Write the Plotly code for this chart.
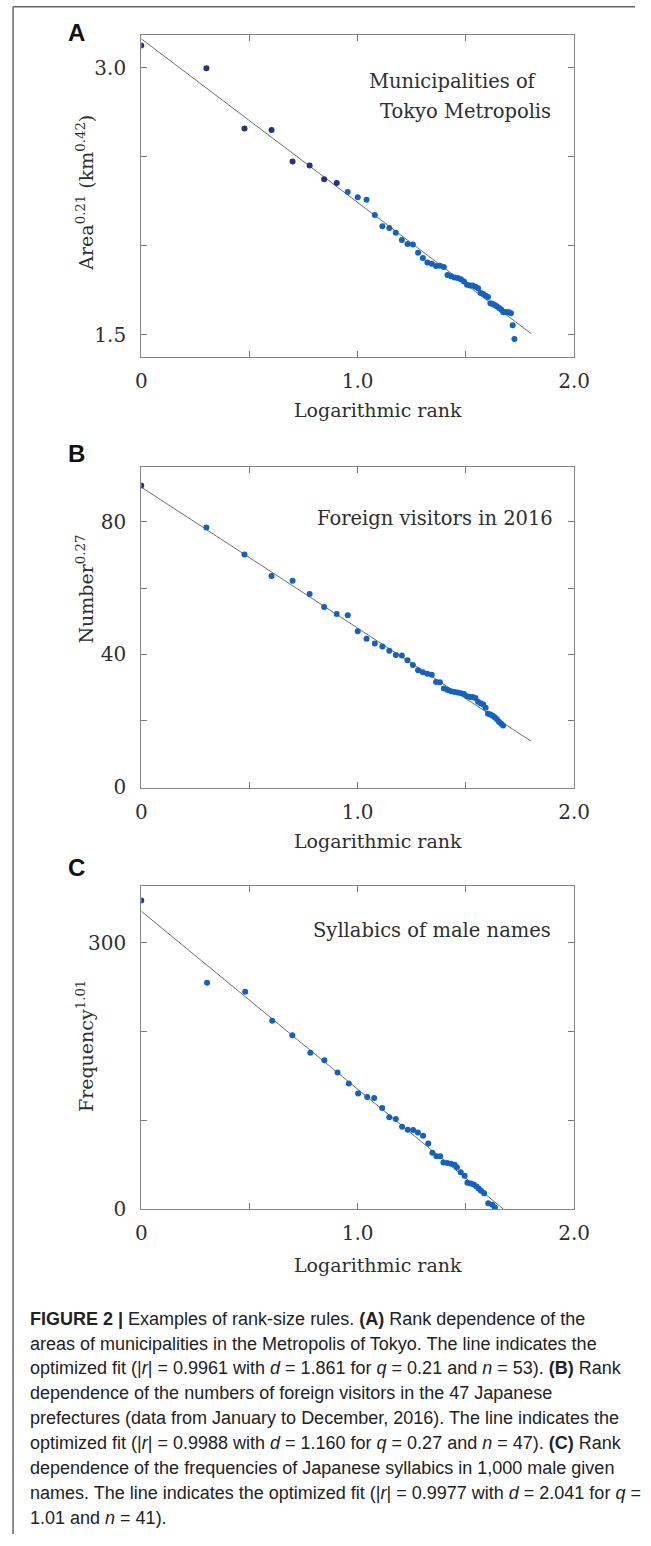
import plotly.graph_objects as go

W, H = 651, 1546

# ---------------- data ----------------
rank_a = [0, 0.301, 0.477, 0.602, 0.699, 0.778, 0.845, 0.903, 0.954, 1.000,
          1.041, 1.079, 1.114, 1.146, 1.176, 1.204, 1.230, 1.255, 1.279, 1.301,
          1.322, 1.342, 1.362, 1.380, 1.398, 1.415, 1.431, 1.447, 1.462, 1.477,
          1.491, 1.505, 1.519, 1.531, 1.544, 1.556, 1.568, 1.580, 1.591, 1.602,
          1.613, 1.623, 1.633, 1.643, 1.653, 1.663, 1.672, 1.681, 1.690, 1.699,
          1.708, 1.716, 1.724]
area_a = [3.125, 2.998, 2.659, 2.650, 2.473, 2.451, 2.374, 2.352, 2.302, 2.272,
          2.259, 2.173, 2.110, 2.099, 2.073, 2.032, 2.009, 2.007, 1.961, 1.931,
          1.905, 1.898, 1.886, 1.888, 1.881, 1.836, 1.829, 1.821, 1.818, 1.812,
          1.799, 1.780, 1.777, 1.777, 1.769, 1.761, 1.734, 1.728, 1.719, 1.711,
          1.676, 1.672, 1.667, 1.659, 1.650, 1.641, 1.628, 1.628, 1.626, 1.626,
          1.620, 1.553, 1.475]
fit_a_x = [0.0, 1.800]
fit_a_y = [3.163, 1.507]

rank_b = [0, 0.301, 0.477, 0.602, 0.699, 0.778, 0.845, 0.903, 0.954, 1.000,
          1.041, 1.079, 1.114, 1.146, 1.176, 1.204, 1.230, 1.255, 1.279, 1.301,
          1.322, 1.342, 1.362, 1.380, 1.398, 1.415, 1.431, 1.447, 1.462, 1.477,
          1.491, 1.505, 1.519, 1.531, 1.544, 1.556, 1.568, 1.580, 1.591, 1.602,
          1.613, 1.623, 1.633, 1.643, 1.653, 1.663, 1.672]
number_b = [90.9, 78.2, 70.1, 63.6, 62.2, 58.2, 54.3, 52.2, 51.8, 47.0,
            44.7, 43.3, 42.4, 41.1, 39.8, 39.7, 38.2, 36.8, 35.2, 34.6,
            34.2, 33.9, 31.7, 31.6, 29.7, 29.3, 28.9, 28.7, 28.5, 28.3,
            28.1, 27.4, 27.2, 27.2, 26.9, 25.7, 25.3, 24.9, 23.9, 22.1,
            21.9, 21.5, 21.1, 20.5, 19.7, 19.1, 18.6]
fit_b_x = [0.0, 1.800]
fit_b_y = [90.4, 13.9]

rank_c = [0, 0.304, 0.480, 0.605, 0.698, 0.781, 0.846, 0.907, 0.959, 1.002,
          1.044, 1.076, 1.113, 1.146, 1.176, 1.205, 1.231, 1.256, 1.278, 1.302,
          1.326, 1.345, 1.364, 1.381, 1.396, 1.414, 1.432, 1.448, 1.458, 1.476,
          1.494, 1.507, 1.522, 1.536, 1.549, 1.559, 1.570, 1.584, 1.603, 1.622,
          1.634]
freq_c = [347.8, 255.2, 244.8, 212.3, 195.9, 176.1, 167.5, 153.7, 141.4, 130.2,
          126.1, 125.0, 113.8, 103.4, 101.3, 92.5, 89.3, 89.0, 86.2, 82.6,
          73.7, 63.4, 59.4, 59.2, 52.4, 51.8, 51.0, 49.8, 46.8, 41.4,
          37.3, 29.4, 28.5, 27.4, 25.3, 22.9, 20.3, 17.7, 6.3, 4.6,
          1.5]
fit_c_x = [0.0, 1.674]
fit_c_y = [335.8, -0.45]

x_ticks = [0, 1.0, 2.0]
x_ticktext = ["0", "1.0", "2.0"]
x_minor = [0.5, 1.5]
y_ticks_a = [1.5, 3.0]
y_ticktext_a = ["1.5", "3.0"]
y_minor_a = [2.0, 2.5]
y_ticks_b = [0, 40, 80]
y_ticktext_b = ["0", "40", "80"]
y_minor_b = [20, 60]
y_ticks_c = [0, 300]
y_ticktext_c = ["0", "300"]
y_minor_c = [100, 200]

y_titles = ["Area<sup>0.21</sup> (km<sup>0.42</sup>)", "Number<sup>0.27</sup>",
            "Frequency<sup>1.01</sup>"]
x_title = "Logarithmic rank"
panel_letters = ["A", "B", "C"]

caption_lines = [
    "<b>FIGURE 2 |</b> Examples of rank-size rules. <b>(A)</b> Rank dependence of the",
    "areas of municipalities in the Metropolis of Tokyo. The line indicates the",
    "optimized fit (|<i>r</i>| = 0.9961 with <i>d</i> = 1.861 for <i>q</i> = 0.21 and <i>n</i> = 53). <b>(B)</b> Rank",
    "dependence of the numbers of foreign visitors in the 47 Japanese",
    "prefectures (data from January to December, 2016). The line indicates the",
    "optimized fit (|<i>r</i>| = 0.9988 with <i>d</i> = 1.160 for <i>q</i> = 0.27 and <i>n</i> = 47). <b>(C)</b> Rank",
    "dependence of the frequencies of Japanese syllabics in 1,000 male given",
    "names. The line indicates the optimized fit (|<i>r</i>| = 0.9977 with <i>d</i> = 2.041 for <i>q</i> =",
    "1.01 and <i>n</i> = 41).",
]

# ---------------- layout geometry (pixels) ----------------
PX_L, PX_R = 140, 588
panels = [
    dict(top=35.0, bot=359.5, yr=[1.376, 3.186], yt=y_ticks_a, ytt=y_ticktext_a, ym=y_minor_a,
         x=rank_a, y=area_a, fx=fit_a_x, fy=fit_a_y, ndark=8,
         ytitle_y=194, xtitle_y=413, letter_y=33,
         labels=[("Municipalities of", 374, 82), ("Tokyo Metropolis", 385, 112)]),
    dict(top=470.7, bot=794.0, yr=[-0.2, 96.44], yt=y_ticks_b, ytt=y_ticktext_b, ym=y_minor_b,
         x=rank_b, y=number_b, fx=fit_b_x, fy=fit_b_y, ndark=1,
         ytitle_y=594, xtitle_y=848, letter_y=457,
         labels=[("Foreign visitors in 2016", 320, 523)]),
    dict(top=893.3, bot=1218.7, yr=[-0.45, 363.8], yt=y_ticks_c, ytt=y_ticktext_c, ym=y_minor_c,
         x=rank_c, y=freq_c, fx=fit_c_x, fy=fit_c_y, ndark=1,
         ytitle_y=1054, xtitle_y=1275, letter_y=874,
         labels=[("Syllabics of male names", 316, 938)]),
]

SERIF = "DejaVu Serif"
TXT = "#2e2e2e"
TICKC = "#7a7a7a"

def px_x(px):
    return px / W

def px_y(py):
    return 1 - py / H

fig = go.Figure()
annotations = []
for i, p in enumerate(panels):
    sfx = "" if i == 0 else str(i + 1)
    xa, ya = "x" + sfx, "y" + sfx
    fig.add_trace(go.Scatter(x=p["fx"], y=p["fy"], mode="lines",
                             line=dict(color="#6e6e6e", width=1),
                             xaxis=xa, yaxis=ya, showlegend=False, hoverinfo="skip"))
    cols = ["#27327e" if k < p["ndark"] else "#1262c4" for k in range(len(p["x"]))]
    fig.add_trace(go.Scatter(x=p["x"], y=p["y"], mode="markers",
                             marker=dict(size=6, color=cols, line=dict(width=0)),
                             xaxis=xa, yaxis=ya, showlegend=False))
    common = dict(ticks="inside", ticklen=6, tickwidth=1, tickcolor=TICKC,
                  showline=True, linecolor="#858585", linewidth=1.2, mirror="ticks",
                  showgrid=False, zeroline=False,
                  tickfont=dict(family=SERIF, size=20, color=TXT))
    fig.update_layout(**{
        "xaxis" + sfx: dict(domain=[px_x(PX_L), px_x(PX_R)], range=[0, 2],
                            tickmode="array", tickvals=x_ticks, ticktext=x_ticktext, anchor=ya,
                            ticklabelstandoff=6,
                            minor=dict(tickmode="array", tickvals=x_minor, ticks="inside",
                                       ticklen=6, tickwidth=1, tickcolor=TICKC, showgrid=False),
                            **common),
        "yaxis" + sfx: dict(domain=[px_y(p["bot"]), px_y(p["top"])], range=p["yr"],
                            tickmode="array", tickvals=p["yt"], ticktext=p["ytt"], anchor=xa,
                            ticklabelstandoff=10,
                            minor=dict(tickmode="array", tickvals=p["ym"], ticks="inside",
                                       ticklen=6, tickwidth=1, tickcolor=TICKC, showgrid=False),
                            **common),
    })
    annotations.append(dict(text=y_titles[i], x=px_x(82), y=px_y(p["ytitle_y"]),
                            xref="paper", yref="paper", showarrow=False, textangle=-90,
                            xanchor="center", yanchor="middle",
                            font=dict(family=SERIF, size=19, color=TXT)))
    annotations.append(dict(text=x_title, x=px_x(385), y=px_y(p["xtitle_y"]),
                            xref="paper", yref="paper", showarrow=False,
                            xanchor="center", yanchor="middle",
                            font=dict(family=SERIF, size=19, color=TXT)))
    annotations.append(dict(text="<b>%s</b>" % panel_letters[i], x=px_x(62), y=px_y(p["letter_y"]),
                            xref="paper", yref="paper", showarrow=False,
                            xanchor="left", yanchor="middle",
                            font=dict(family="Liberation Sans", size=24, color="#111")))
    for (t, lx, ly) in p["labels"]:
        annotations.append(dict(text=t, x=px_x(lx), y=px_y(ly), xref="paper", yref="paper",
                                showarrow=False, xanchor="left", yanchor="middle",
                                font=dict(family=SERIF, size=19.5, color=TXT)))

for j, line in enumerate(caption_lines):
    annotations.append(dict(text=line, x=px_x(23), y=px_y(1329 + 25.1 * j),
                            xref="paper", yref="paper", showarrow=False,
                            xanchor="left", yanchor="middle",
                            font=dict(family="Liberation Sans", size=18, color="#222")))

shapes = [
    dict(type="line", xref="paper", yref="paper", x0=px_x(7.3), x1=1.0,
         y0=px_y(6.7), y1=px_y(6.7), line=dict(color="#666", width=1.5)),
    dict(type="line", xref="paper", yref="paper", x0=px_x(7.3), x1=px_x(7.3),
         y0=px_y(6.7), y1=0.0, line=dict(color="#666", width=1.5)),
]

fig.update_layout(width=W, height=H, margin=dict(l=0, r=0, t=0, b=0),
                  paper_bgcolor="white", plot_bgcolor="white",
                  annotations=annotations, shapes=shapes, showlegend=False)

fig.write_html("out.html",
               post_script="document.body.style.margin='0';document.body.style.overflow='hidden';")
